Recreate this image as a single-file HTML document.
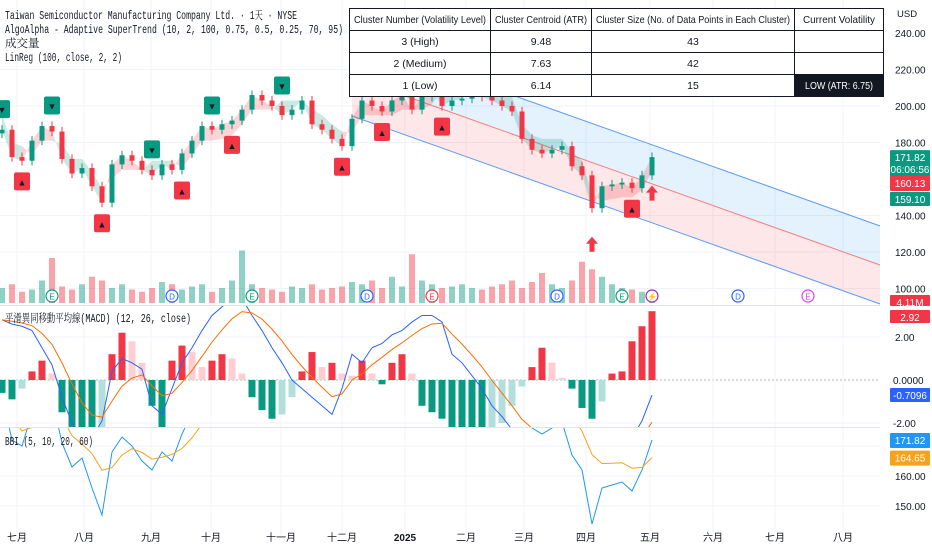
<!DOCTYPE html>
<html><head><meta charset="utf-8">
<style>
html,body{margin:0;padding:0;background:#fff;}
svg{display:block;font-family:"Liberation Sans","Noto Sans CJK TC",sans-serif;}
.mono{font-family:"Liberation Mono","Noto Serif CJK SC",monospace;}
.nar{font-family:"Liberation Sans Narrow","Liberation Sans",sans-serif;}
</style></head>
<body>
<svg id="chart" width="932" height="550" viewBox="0 0 932 550" xmlns="http://www.w3.org/2000/svg">
<defs>
<clipPath id="cpPrice"><rect x="0" y="0" width="880" height="305"/></clipPath>
<clipPath id="cpMacd"><rect x="0" y="306" width="880" height="121"/></clipPath>
<clipPath id="cpBbi"><rect x="0" y="428" width="880" height="107"/></clipPath>
</defs>
<g id="grid"></g>
<g id="channel" clip-path="url(#cpPrice)"></g>
<g id="volume" clip-path="url(#cpPrice)"></g>
<g id="st" clip-path="url(#cpPrice)"></g>
<g id="candles" clip-path="url(#cpPrice)"></g>
<g id="markers"></g>
<g id="events"></g>
<g id="macd" clip-path="url(#cpMacd)"></g>
<g id="bbi" clip-path="url(#cpBbi)"></g>
<line x1="0" y1="305.5" x2="932" y2="305.5" stroke="#e0e3eb"/>
<line x1="0" y1="427.5" x2="932" y2="427.5" stroke="#e0e3eb"/>
<g id="axis"></g>

<g class="mono" font-size="11.5" fill="#131722">
<text x="5" y="19" textLength="292" lengthAdjust="spacingAndGlyphs">Taiwan Semiconductor Manufacturing Company Ltd. · 1天 · NYSE</text>
<text x="5" y="33" textLength="338" lengthAdjust="spacingAndGlyphs">AlgoAlpha -   Adaptive SuperTrend (10, 2, 100, 0.75, 0.5, 0.25, 70, 95)</text>
<text x="5" y="47">成交量</text>
<text x="5" y="61" textLength="117" lengthAdjust="spacingAndGlyphs">LinReg (100, close, 2, 2)</text>
<text x="5" y="322" textLength="186" lengthAdjust="spacingAndGlyphs">平滑異同移動平均線(MACD) (12, 26, close)</text>
<text x="5" y="445" textLength="88" lengthAdjust="spacingAndGlyphs">BBI (5, 10, 20, 60)</text>
</g>

<g id="table" class="nar" font-size="10.5" fill="#131722">
<rect x="349.5" y="8.5" width="534" height="88" fill="#fff" stroke="#131722"/>
<rect x="794" y="74" width="90" height="22" fill="#131722"/>
<line x1="349" y1="30.5" x2="884" y2="30.5" stroke="#131722"/>
<line x1="349" y1="52.5" x2="884" y2="52.5" stroke="#131722"/>
<line x1="349" y1="74.5" x2="884" y2="74.5" stroke="#131722"/>
<line x1="490.5" y1="8" x2="490.5" y2="96" stroke="#131722"/>
<line x1="591.5" y1="8" x2="591.5" y2="96" stroke="#131722"/>
<line x1="794.5" y1="8" x2="794.5" y2="96" stroke="#131722"/>
<g text-anchor="middle">
<text x="420" y="23" textLength="132" lengthAdjust="spacingAndGlyphs">Cluster Number (Volatility Level)</text>
<text x="541" y="23" textLength="92" lengthAdjust="spacingAndGlyphs">Cluster Centroid (ATR)</text>
<text x="693" y="23" textLength="194" lengthAdjust="spacingAndGlyphs">Cluster Size (No. of Data Points in Each Cluster)</text>
<text x="839" y="23" textLength="72" lengthAdjust="spacingAndGlyphs">Current Volatility</text>
<text x="420" y="45">3 (High)</text><text x="541" y="45">9.48</text><text x="693" y="45">43</text>
<text x="420" y="67">2 (Medium)</text><text x="541" y="67">7.63</text><text x="693" y="67">42</text>
<text x="420" y="89">1 (Low)</text><text x="541" y="89">6.14</text><text x="693" y="89">15</text>
<text x="839" y="89" fill="#fff" textLength="68" lengthAdjust="spacingAndGlyphs">LOW (ATR: 6.75)</text>
</g>
</g>
</svg>
<script>
// ---- data ----
const closes=[187,172,170,181,189,186,171,163,166,156,147,168,173,170,165,162,168,165,174,181,189,187,190,192,198,206,203,200,195,198,203,190,187,182,178,193,203,200,197,203,206,198,205,209,200,203,204,208,205,203,200,197,182,176,174,176,178,167,162,144,156,157,158,155,162,172];
const volumes=[20,25,15,18,30,60,22,18,25,35,30,20,25,18,15,20,28,25,18,22,25,15,20,30,70,25,20,18,15,22,20,25,18,20,22,28,25,30,20,35,22,65,30,25,20,22,25,20,18,22,25,30,20,28,40,25,20,30,55,45,35,25,20,18,15,12];
const macdLine=[2.8,2.6,2.5,2.3,1.5,0.7,-0.8,-2,-2.7,-2.7,-1.9,0.4,1,0.8,0.5,-1.2,-1.6,-0.4,0.8,1.5,2.3,3,3.4,3.8,3.8,3,2.3,1.5,0.8,0,-0.4,-0.8,-1.2,-1.6,-0.4,1.2,0.8,1.5,1.7,2.1,2.3,2.7,3,3,2.7,1.2,0.8,0.2,-0.4,-1.2,-1.7,-2.3,-3,-3,-2.7,-2.3,-2.3,-2.7,-3,-3.8,-3.8,-3.4,-3,-2.7,-1.9,-0.7];
const histVals=[-0.6,-0.9,-0.4,0.4,0.9,0.3,-1.5,-2.5,-3,-3,-2.5,1.2,2.2,1.8,0.8,-1.2,-2.2,0.9,1.6,1.3,0.6,0.9,1.2,1.0,0.3,-0.8,-1.4,-1.8,-1.6,-0.8,0.4,1.3,0.6,0.8,0.3,0.2,0.9,0.3,-0.2,0.8,1.2,0.3,-1.2,-1.5,-1.8,-2.2,-2.5,-2.6,-2.7,-2.4,-2.0,-1.2,-0.3,0.6,1.5,0.8,0.1,-0.4,-1.3,-1.8,-1.0,0.3,0.4,1.8,2.5,3.2];
const buyIdx=[2,10,18,23,34,38,44,63];
const sellIdx=[0,5,15,21,28];
const arrowIdx=[59,65];
const eventIdx=[5,17,25,36.5,43,55.5,62,65,73.6,80.6];
const eventTypes=['E','D','E','D','E','D','E','⚡','D','E'];
const priceTicks=[240,220,200,180,140,120,100];
const macdTicks=[2,0,-2];
const bbiTicks=[160,150];
const monthLabels=['七月','八月','九月','十月','十一月','十二月','2025','二月','三月','四月','五月','六月','七月','八月'];
const monthX=[17,84,151,211,281,342,405,466,524,586,650,713,775,843];
// ---- scales ----
const NS='http://www.w3.org/2000/svg';
const xi=i=>2+i*10;
const yP=p=>33+(240-p)*1.825;
const yM=v=>380-v*21.5;
const yB=p=>476-(p-160)*3;
function el(tag,attrs,parent,text){const e=document.createElementNS(NS,tag);for(const k in attrs)e.setAttribute(k,attrs[k]);if(text!==undefined)e.textContent=text;parent.appendChild(e);return e;}
const G=id=>document.getElementById(id);
// grid
const grid=G('grid');
priceTicks.forEach(t=>el('line',{x1:0,x2:880,y1:yP(t),y2:yP(t),stroke:'#f0f3fa'},grid));
macdTicks.forEach(t=>el('line',{x1:0,x2:880,y1:yM(t),y2:yM(t),stroke:t===0?'#b2b5be':'#f0f3fa','stroke-dasharray':t===0?'2,2':''},grid));
bbiTicks.concat([170]).forEach(t=>el('line',{x1:0,x2:880,y1:yB(t),y2:yB(t),stroke:'#f0f3fa'},grid));
monthX.forEach(x=>el('line',{x1:x,x2:x,y1:0,y2:535,stroke:'#f0f3fa'},grid));
// channel
const ch=G('channel');
const cx0=352,cx1=890,slope=0.356;
const up0=38,mid0=77,lo0=116;
const L=(y0,x)=>y0+(x-cx0)*slope;
el('polygon',{points:`${cx0},${up0} ${cx1},${L(up0,cx1)} ${cx1},${L(mid0,cx1)} ${cx0},${mid0}`,fill:'rgba(33,150,243,0.12)'},ch);
el('polygon',{points:`${cx0},${mid0} ${cx1},${L(mid0,cx1)} ${cx1},${L(lo0,cx1)} ${cx0},${lo0}`,fill:'rgba(242,54,69,0.12)'},ch);
[[up0,'#5b9cf6'],[mid0,'#f77c80'],[lo0,'#5b9cf6']].forEach(([y0,c])=>el('line',{x1:cx0,y1:y0,x2:cx1,y2:L(y0,cx1),stroke:c,'stroke-width':1},ch));
// volume
const vg=G('volume');
volumes.forEach((v,i)=>{const upc=i===0||closes[i]>=closes[i-1];const b=el('rect',{x:xi(i)-3,y:303-v*0.75,width:6,height:v*0.75,fill:upc?'rgba(8,153,129,0.45)':'rgba(242,54,69,0.45)'},vg);

});
// supertrend
const stg=G('st');let st=closes[0]+8,trend=-1;const stv=[],tr=[];
closes.forEach((c,i)=>{if(trend===-1){if(c>st){trend=1;st=c-8;}else st=Math.min(st,c+8);}else{if(c<st){trend=-1;st=c+8;}else st=Math.max(st,c-8);}stv.push(st);tr.push(trend);});
for(let i=1;i<closes.length;i++){const col=tr[i]===1?'rgba(242,54,69,0.22)':'rgba(8,153,129,0.22)';
const p=el('polygon',{points:`${xi(i-1)},${yP(closes[i-1])} ${xi(i)},${yP(closes[i])} ${xi(i)},${yP(stv[i])} ${xi(i-1)},${yP(stv[i-1])}`,fill:col},stg);

}
// candles
const cg=G('candles');
closes.forEach((c,i)=>{const o=i===0?c-2:closes[i-1];const hi=Math.max(o,c)+2.5,lo=Math.min(o,c)-2.5;const col=c>=o?'#089981':'#f23645';
el('line',{x1:xi(i),x2:xi(i),y1:yP(hi),y2:yP(lo),stroke:col},cg);
const r=el('rect',{x:xi(i)-2.5,y:yP(Math.max(o,c)),width:5,height:Math.max(1,Math.abs(yP(o)-yP(c))),fill:col},cg);

});
// markers
const mg=G('markers');
buyIdx.forEach(i=>{const lo=Math.min(closes[i],closes[Math.max(0,i-1)])-2.5;const y=yP(lo)+16;
const r=el('rect',{x:xi(i)-8,y:y-9,width:16,height:18,rx:2,fill:'#f23645'},mg);


el('text',{x:xi(i),y:y+4,'text-anchor':'middle','font-size':9,fill:'#131722'},mg,'▲');});
sellIdx.forEach(i=>{const hi=Math.max(closes[i],closes[Math.max(0,i-1)])+2.5;const y=yP(hi)-16;
const r=el('rect',{x:xi(i)-8,y:y-9,width:16,height:18,rx:2,fill:'#089981'},mg);


el('text',{x:xi(i),y:y+4,'text-anchor':'middle','font-size':9,fill:'#131722'},mg,'▼');});
arrowIdx.forEach(i=>{const y=yP(closes[i]-2.5)+32;
const a=el('polygon',{points:`${xi(i)},${y-8} ${xi(i)+6},${y-1} ${xi(i)+2.5},${y-1} ${xi(i)+2.5},${y+7} ${xi(i)-2.5},${y+7} ${xi(i)-2.5},${y-1} ${xi(i)-6},${y-1}`,fill:'#f23645'},mg);

});
// events
const eg=G('events');
eventIdx.forEach((ix,k)=>{const x=xi(ix),t=eventTypes[k];const col=t==='D'?'#2962ff':(t==='⚡'?'#9c27b0':(k===4?'#f23645':(k===9?'#e040fb':'#089981')));
const c=el('circle',{cx:x,cy:296,r:6,fill:'#fff',stroke:col,'stroke-width':1.2},eg);


el('text',{x:x,y:299.5,'text-anchor':'middle','font-size':8,fill:col},eg,t);});
// macd
const mgp=G('macd');
histVals.forEach((v,i)=>{const prev=i===0?0:histVals[i-1];let col;
if(v>=0)col=v>=prev?'#f23645':'#ffcdd2';else col=v<=prev?'#089981':'#b2dfdb';
const y0=yM(0),y1=yM(v);const r=el('rect',{x:xi(i)-3.5,y:Math.min(y0,y1),width:7,height:Math.abs(y1-y0),fill:col},mgp);

});
const sig=[];macdLine.forEach((v,i)=>sig.push(i===0?v:sig[i-1]+0.35*(v-sig[i-1])));
const ml=el('polyline',{points:macdLine.map((v,i)=>`${xi(i)},${yM(v)}`).join(' '),fill:'none',stroke:'#2962ff','stroke-width':1},mgp);


const sl=el('polyline',{points:sig.map((v,i)=>`${xi(i)},${yM(v)}`).join(' '),fill:'none',stroke:'#ff6d00','stroke-width':1},mgp);


// bbi
const bg=G('bbi');
const ma=(n,i)=>{let s=0,c=0;for(let j=Math.max(0,i-n+1);j<=i;j++){s+=closes[j];c++;}return s/c;};
const bbiVals=closes.map((c,i)=>(ma(2,i)+ma(3,i)+ma(7,i)+ma(20,i))/4);
const bl=el('polyline',{points:closes.map((v,i)=>`${xi(i)},${yB(v)}`).join(' '),fill:'none',stroke:'#2196f3','stroke-width':1},bg);


const ol=el('polyline',{points:bbiVals.map((v,i)=>`${xi(i)},${yB(v)}`).join(' '),fill:'none',stroke:'#f7a21b','stroke-width':1},bg);


// axes
const ax=G('axis');
el('rect',{x:880,y:0,width:52,height:550,fill:'#fff'},ax);
el('text',{x:897,y:17,'font-size':9.5,fill:'#131722'},ax,'USD');
priceTicks.forEach(t=>el('text',{x:895,y:yP(t)+4,'font-size':10,fill:'#131722'},ax,t.toFixed(2)));
el('text',{x:895,y:yM(2)+4,'font-size':10,fill:'#131722'},ax,'2.00');
el('text',{x:893,y:yM(0)+4,'font-size':10,fill:'#131722'},ax,'0.0000');
el('text',{x:893,y:yM(-2)+4,'font-size':10,fill:'#131722'},ax,'-2.00');
bbiTicks.forEach(t=>el('text',{x:895,y:yB(t)+4,'font-size':10,fill:'#131722'},ax,t.toFixed(2)));
function tag(y,h,bg,txt,name,txt2){const r=el('rect',{x:890,y:y,width:40,height:h,fill:bg,rx:1},ax);


el('text',{x:910,y:y+11,'text-anchor':'middle','font-size':10,fill:'#fff'},ax,txt);
if(txt2)el('text',{x:910,y:y+23,'text-anchor':'middle','font-size':10,fill:'#fff'},ax,txt2);}
const last=closes[closes.length-1];
tag(yP(last)-7,27,'#089981','171.82','last-price-tag','06:06:56');
tag(176,15,'#f23645','160.13','supertrend-tag');
tag(192,14,'#089981','159.10','lower-tag');
tag(295,11,'#f23645','4.11M','volume-tag');
tag(310,13,'#f23645','2.92','hist-tag');
tag(yM(-0.7)-7,14,'#2962ff','-0.7096','macd-tag');
tag(yB(last)-7,15,'#2196f3','171.82','bbi-close-tag');
tag(yB(bbiVals[bbiVals.length-1])-7,15,'#f7a21b','164.65','bbi-tag');
monthLabels.forEach((m,k)=>{const t=el('text',{x:monthX[k],y:541,'text-anchor':'middle','font-size':10,fill:'#131722','font-weight':m==='2025'?'bold':'normal'},ax,m);

});
</script>
</body></html>
